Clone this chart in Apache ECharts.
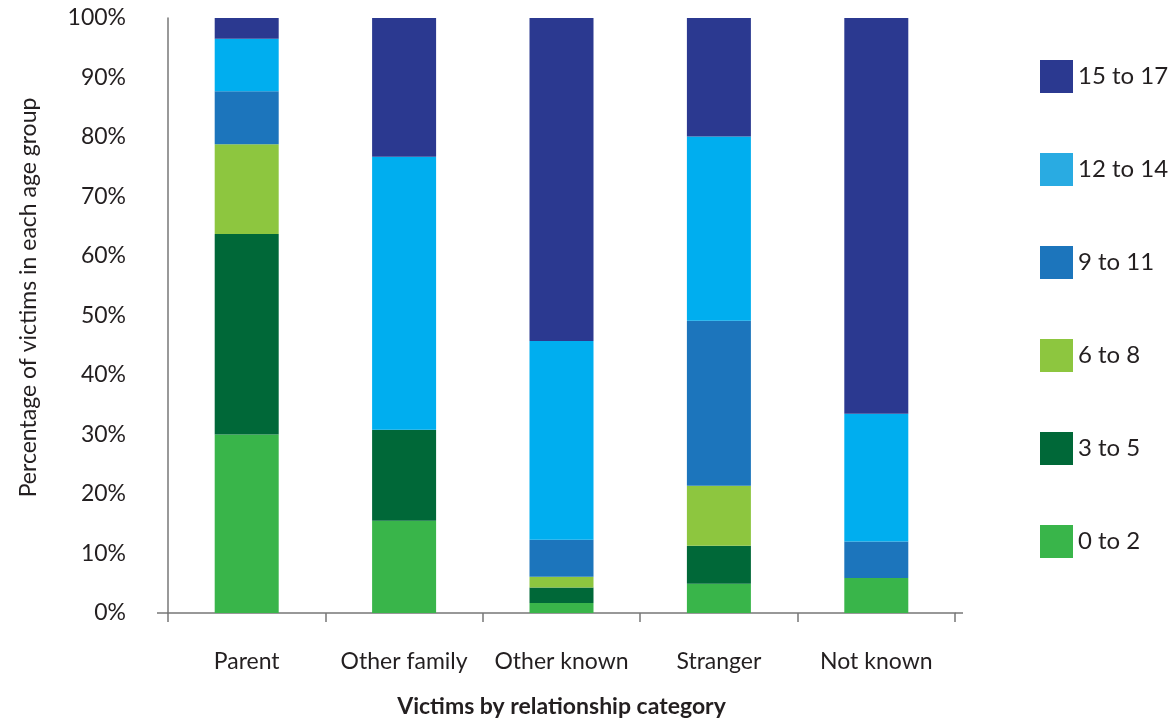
<!DOCTYPE html>
<html>
<head>
<meta charset="utf-8">
<script src="https://cdn.jsdelivr.net/npm/echarts@6/dist/echarts.min.js"></script>
<style>
  html, body { margin: 0; padding: 0; background: #fff; }
  #chart { width: 1173px; height: 723px; }
</style>
</head>
<body>
<div id="chart"></div>
<script>
// Relationship categories on the x axis
const categories = ['Parent', 'Other family', 'Other known', 'Stranger', 'Not known'];

// Share of victims (%) in each age group, per relationship category
const age0to2   = [30.0, 15.5, 1.7, 4.9, 5.9];
const age3to5   = [33.7, 15.3, 2.6, 6.4, 0];
const age6to8   = [15.1, 0, 1.8, 10.1, 0];
const age9to11  = [8.9, 0, 6.2, 27.7, 6.1];
const age12to14 = [8.8, 45.9, 33.4, 31.0, 21.5];
const age15to17 = [3.5, 23.3, 54.3, 19.9, 66.5];

const seriesNames = ['0 to 2', '3 to 5', '6 to 8', '9 to 11', '12 to 14', '15 to 17'];
const seriesData = [age0to2, age3to5, age6to8, age9to11, age12to14, age15to17];
const barColors = ['#39B54A', '#006838', '#8DC63F', '#1C75BC', '#00AEEF', '#2B3990'];
const legendColors = ['#39B54A', '#006838', '#8DC63F', '#1C75BC', '#29ABE2', '#2B3990'];

const FONT = 'Lato, "Open Sans", sans-serif';
const TEXT = '#231F20';
const AXIS = '#777777';

const chart = echarts.init(document.getElementById('chart'), null, { renderer: 'canvas' });

const series = seriesNames.map((name, i) => ({
  name: name,
  type: 'bar',
  stack: 'total',
  barWidth: 64,
  data: seriesData[i],
  itemStyle: { color: barColors[i] },
  emphasis: { disabled: true }
}));

chart.setOption({
  animation: false,
  backgroundColor: '#ffffff',
  textStyle: { fontFamily: FONT, color: TEXT },
  grid: { left: 168, right: 218, top: 18, bottom: 110, containLabel: false },
  legend: {
    orient: 'vertical',
    left: 1035,
    top: 55,
    itemWidth: 33,
    itemHeight: 33,
    itemGap: 60,
    icon: 'rect',
    textStyle: { fontFamily: FONT, fontSize: 24, color: TEXT },
    data: seriesNames.slice().reverse().map((n) => ({
      name: n,
      itemStyle: { color: legendColors[seriesNames.indexOf(n)] }
    })),
    selectedMode: false
  },
  xAxis: {
    type: 'category',
    data: categories,
    name: 'Victims by relationship category',
    nameLocation: 'middle',
    nameGap: 82,
    nameTextStyle: { fontFamily: FONT, fontSize: 23, fontWeight: 'bold', color: TEXT },
    axisLine: { show: true, lineStyle: { color: AXIS, width: 1.5 } },
    axisTick: { show: true, inside: false, length: 9, alignWithLabel: false, lineStyle: { color: AXIS, width: 1.5 } },
    axisLabel: { interval: 0, margin: 37, fontFamily: FONT, fontSize: 23, color: TEXT }
  },
  yAxis: {
    type: 'value',
    min: 0,
    max: 100,
    interval: 10,
    name: 'Percentage of victims in each age group',
    nameLocation: 'middle',
    nameGap: 128,
    nameTextStyle: { fontFamily: FONT, fontSize: 23, color: TEXT, padding: [0, 0, 0, 36] },
    axisLine: { show: true, lineStyle: { color: AXIS, width: 1.5 } },
    axisTick: { show: false },
    splitLine: { show: false },
    axisLabel: { margin: 42, fontFamily: FONT, fontSize: 23, color: TEXT, formatter: '{value}%' }
  },
  graphic: [
    { type: 'line', shape: { x1: 157, y1: 613, x2: 168, y2: 613 }, style: { stroke: AXIS, lineWidth: 1.5 } },
    { type: 'line', shape: { x1: 955, y1: 613, x2: 963, y2: 613 }, style: { stroke: AXIS, lineWidth: 1.5 } }
  ],
  series: series
});
</script>
</body>
</html>
